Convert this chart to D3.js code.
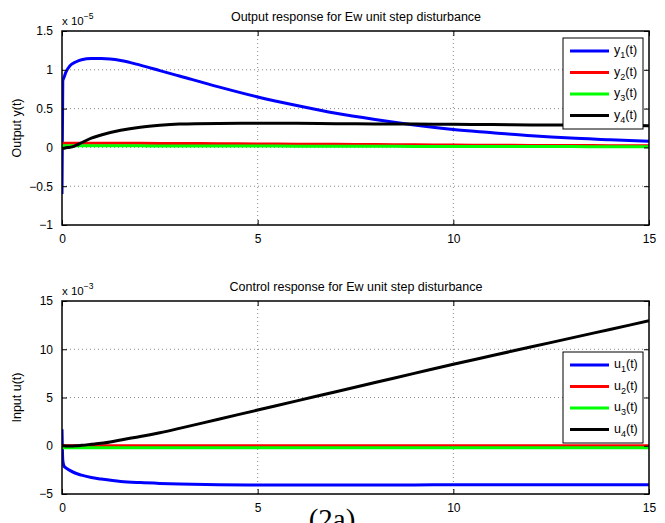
<!DOCTYPE html>
<head>
  <meta charset="utf-8">
  <script src="https://d3js.org/d3.v7.min.js"></script>
  <style type="text/css">
body { margin:0; background:#fff; }
text { font-family: "Liberation Sans", Arial, sans-serif; fill:#000; }
.grid line { stroke:#888; stroke-width:1; stroke-dasharray:1,3; }
.axis path { display:none; }
.axis line { stroke:#000; }
.axis text { font-size:12px; }
.line { fill:none; stroke-width:3; stroke-linejoin:round; }
  </style>
</head>
<body>
<script>
// time points (s)
var t = [0, 0.02, 0.05, 0.1, 0.2, 0.35, 0.5, 0.75, 1, 1.5, 2, 2.5, 3, 4, 5, 6, 7, 8, 9, 10, 11, 12, 13, 14, 15];

// output response, x 1e-5
var y1 = [-0.6, 0.86, 0.9, 0.97, 1.05, 1.10, 1.13, 1.145, 1.145, 1.12, 1.06, 0.99, 0.92, 0.78, 0.65, 0.54, 0.44, 0.36, 0.29, 0.23, 0.19, 0.15, 0.12, 0.10, 0.08];
var y2 = [-0.03, 0.055, 0.055, 0.055, 0.055, 0.055, 0.055, 0.055, 0.054, 0.053, 0.052, 0.051, 0.05, 0.048, 0.045, 0.042, 0.039, 0.036, 0.033, 0.03, 0.028, 0.026, 0.024, 0.022, 0.02];
var y3 = [0.0, 0.02, 0.02, 0.02, 0.02, 0.02, 0.02, 0.02, 0.02, 0.02, 0.02, 0.019, 0.019, 0.018, 0.017, 0.016, 0.015, 0.014, 0.013, 0.012, 0.011, 0.01, 0.01, 0.009, 0.008];
var y4 = [-0.01, -0.01, -0.01, -0.005, 0.0, 0.025, 0.06, 0.12, 0.16, 0.22, 0.26, 0.285, 0.30, 0.308, 0.31, 0.31, 0.306, 0.303, 0.30, 0.297, 0.294, 0.29, 0.288, 0.285, 0.28];

// control response, x 1e-3
var u1 = [1.7, -1.5, -2.1, -2.3, -2.55, -2.85, -3.05, -3.3, -3.45, -3.7, -3.82, -3.9, -3.96, -4.03, -4.07, -4.08, -4.08, -4.07, -4.06, -4.05, -4.05, -4.04, -4.04, -4.03, -4.03];
var u2 = [0, 0.01, 0.01, 0.01, 0.01, 0.01, 0.01, 0.01, 0.01, 0.01, 0.01, 0.01, 0.01, 0.01, 0.01, 0.01, 0.01, 0.01, 0.01, 0.01, 0.01, 0.01, 0.01, 0.01, 0.01];
var u3 = [0, -0.15, -0.2, -0.2, -0.2, -0.2, -0.2, -0.2, -0.2, -0.2, -0.2, -0.2, -0.2, -0.2, -0.2, -0.2, -0.2, -0.2, -0.2, -0.2, -0.2, -0.2, -0.2, -0.2, -0.2];
var u4 = [0, 0, -0.01, -0.02, -0.02, 0.0, 0.05, 0.15, 0.25, 0.6, 0.95, 1.35, 1.8, 2.75, 3.7, 4.65, 5.6, 6.55, 7.5, 8.45, 9.35, 10.25, 11.15, 12.05, 12.95];

var xTicks = [0, 5, 10, 15];
var yTicksTop = [-1, -0.5, 0, 0.5, 1, 1.5];
var yTicksBot = [-5, 0, 5, 10, 15];
var colors = ["#0000ff", "#ff0000", "#00ff00", "#000000"];

var W = 665, H = 523;
var svg = d3.select("body").append("svg").attr("width", W).attr("height", H);

function panel(o) {
  var x = d3.scaleLinear().domain([0, 15]).range([62, 649]);
  var y = d3.scaleLinear().domain(o.ydom).range([o.bottom, o.top]);
  var g = svg.append("g");
  var clipId = "clip" + o.id;
  svg.append("clipPath").attr("id", clipId).append("rect")
    .attr("x", 62).attr("y", o.top).attr("width", 587).attr("height", o.bottom - o.top);

  // grid
  var grid = g.append("g").attr("class", "grid");
  grid.selectAll(".gx").data(xTicks.slice(1, -1)).enter().append("line")
    .attr("x1", function(d) { return x(d); }).attr("x2", function(d) { return x(d); })
    .attr("y1", o.top).attr("y2", o.bottom);
  grid.selectAll(".gy").data(o.yticks.slice(1, -1)).enter().append("line")
    .attr("x1", 62).attr("x2", 649)
    .attr("y1", function(d) { return y(d); }).attr("y2", function(d) { return y(d); });

  // series
  o.series.forEach(function(s, i) {
    var line = d3.line()
      .x(function(d, j) { return x(t[j]); })
      .y(function(d) { return y(d); })
      .curve(d3.curveMonotoneX);
    g.append("path").datum(s).attr("class", "line")
      .attr("clip-path", "url(#" + clipId + ")")
      .attr("stroke", colors[i]).attr("d", line);
  });

  // axes, ticks inward
  g.append("g").attr("class", "axis").attr("transform", "translate(0," + o.bottom + ")")
    .call(d3.axisBottom(x).tickValues(xTicks).tickSize(-5).tickPadding(9).tickFormat(d3.format("d")));
  g.append("g").attr("class", "axis").attr("transform", "translate(0," + o.top + ")")
    .call(d3.axisTop(x).tickValues(xTicks).tickSize(-5).tickFormat(""));
  g.append("g").attr("class", "axis").attr("transform", "translate(62,0)")
    .call(d3.axisLeft(y).tickValues(o.yticks).tickSize(-5).tickPadding(9)
      .tickFormat(function(d) { return String(d).replace("-", "\u2212"); }));
  g.append("g").attr("class", "axis").attr("transform", "translate(649,0)")
    .call(d3.axisRight(y).tickValues(o.yticks).tickSize(-5).tickFormat(""));

  g.append("rect").attr("x", 62).attr("y", o.top).attr("width", 587).attr("height", o.bottom - o.top)
    .attr("fill", "none").attr("stroke", "#000").attr("stroke-width", 1.5);

  // title
  g.append("text").attr("x", 356).attr("y", o.top - 10).attr("text-anchor", "middle")
    .style("font-size", "12.5px").text(o.title);

  // exponent
  var ex = g.append("text").attr("x", 62).attr("y", o.top - 6).style("font-size", "11.5px");
  ex.append("tspan").text("x 10");
  ex.append("tspan").attr("dy", -6).style("font-size", "8.5px").text(o.exp);

  // y label
  g.append("text").attr("transform", "translate(21," + ((o.top + o.bottom) / 2) + ") rotate(-90)")
    .attr("text-anchor", "middle").style("font-size", "12.5px").text(o.ylabel);

  // legend
  var lg = g.append("g").attr("transform", "translate(563," + o.legTop + ")");
  lg.append("rect").attr("width", 80).attr("height", 91)
    .attr("fill", "#fff").attr("stroke", "#000").attr("stroke-width", 1);
  colors.forEach(function(c, i) {
    var yy = 13 + i * 21.5;
    lg.append("line").attr("x1", 7).attr("x2", 46).attr("y1", yy).attr("y2", yy)
      .attr("stroke", c).attr("stroke-width", 3);
    var tx = lg.append("text").attr("x", 51).attr("y", yy + 3).style("font-size", "12.5px");
    tx.append("tspan").text(o.sym);
    tx.append("tspan").attr("dy", 4).style("font-size", "9px").text(i + 1);
    tx.append("tspan").attr("dy", -4).text("(t)");
  });
}

panel({id: 1, top: 31, bottom: 225, ydom: [-1, 1.5], yticks: yTicksTop,
  series: [y1, y2, y3, y4], title: "Output response for Ew unit step disturbance",
  exp: "\u22125", ylabel: "Output y(t)", sym: "y", legTop: 38});
panel({id: 2, top: 301, bottom: 494, ydom: [-5, 15], yticks: yTicksBot,
  series: [u1, u2, u3, u4], title: "Control response for Ew unit step disturbance",
  exp: "\u22123", ylabel: "Input u(t)", sym: "u", legTop: 352});

svg.append("text").attr("x", 332).attr("y", 529).attr("text-anchor", "middle")
  .style("font-family", "'Liberation Serif', 'Times New Roman', serif").style("font-size", "29px")
  .text("(2a)");
</script>
</body>
